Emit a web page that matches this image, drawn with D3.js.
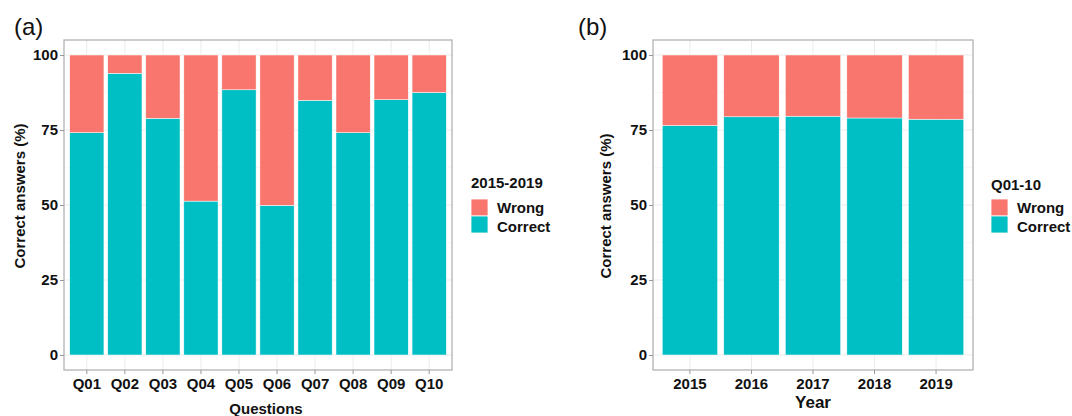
<!DOCTYPE html>
<html>
<head>
<meta charset="utf-8">
<script src="https://cdn.jsdelivr.net/npm/d3@7"></script>
<style>
  body { margin: 0; background: #fff; }
  svg text { font-family: "Liberation Sans", Arial, sans-serif; }
</style>
</head>
<body>
<div id="chart"></div>
<script>
// Data (percent of answers)
var questions = ["Q01", "Q02", "Q03", "Q04", "Q05", "Q06", "Q07", "Q08", "Q09", "Q10"];
var correctByQuestion = [74.1, 93.9, 78.9, 51.3, 88.4, 49.9, 84.9, 74.1, 85.1, 87.5];
var wrongByQuestion = [25.9, 6.1, 21.1, 48.7, 11.6, 50.1, 15.1, 25.9, 14.9, 12.5];

var years = ["2015", "2016", "2017", "2018", "2019"];
var correctByYear = [76.5, 79.4, 79.6, 79.0, 78.6];
var wrongByYear = [23.5, 20.6, 20.4, 21.0, 21.4];

var yTicks = [0, 25, 50, 75, 100];
var yMinor = [12.5, 37.5, 62.5, 87.5];

var colorWrong = "#F8766D";
var colorCorrect = "#00BFC4";

var svgWidth = 1072;
var svgHeight = 416;

var svg = d3.select("#chart")
    .append("svg")
    .attr("width", svgWidth)
    .attr("height", svgHeight);

// draws one ggplot-like stacked bar panel
function drawPanel(opts) {
    var left = opts.left, right = opts.right, top = 40, bottom = 370;

    var xBand = d3.scaleBand()
        .domain(opts.categories)
        .range([left, right])
        .paddingInner(0.1)
        .paddingOuter(0.15);

    var yLinear = d3.scaleLinear()
        .domain([-5, 105])
        .range([bottom, top]);

    var g = svg.append("g");

    // panel background
    g.append("rect")
        .attr("x", left).attr("y", top)
        .attr("width", right - left).attr("height", bottom - top)
        .attr("fill", "#fff");

    // minor grid
    g.selectAll(".minor")
        .data(yMinor)
        .enter().append("line")
        .attr("x1", left).attr("x2", right)
        .attr("y1", d => yLinear(d)).attr("y2", d => yLinear(d))
        .attr("stroke", "#f3f3f3").attr("stroke-width", 0.6);

    // major grid
    g.selectAll(".hmajor")
        .data(yTicks)
        .enter().append("line")
        .attr("x1", left).attr("x2", right)
        .attr("y1", d => yLinear(d)).attr("y2", d => yLinear(d))
        .attr("stroke", "#ebebeb").attr("stroke-width", 1);

    g.selectAll(".vmajor")
        .data(opts.categories)
        .enter().append("line")
        .attr("y1", top).attr("y2", bottom)
        .attr("x1", d => xBand(d) + xBand.bandwidth() / 2)
        .attr("x2", d => xBand(d) + xBand.bandwidth() / 2)
        .attr("stroke", "#ebebeb").attr("stroke-width", 1);

    // correct segment (bottom)
    g.selectAll(".correct")
        .data(opts.categories)
        .enter().append("rect")
        .attr("x", d => xBand(d))
        .attr("width", xBand.bandwidth())
        .attr("y", (d, i) => yLinear(opts.correct[i]))
        .attr("height", (d, i) => yLinear(0) - yLinear(opts.correct[i]))
        .attr("fill", colorCorrect)
        .attr("stroke", "#fff").attr("stroke-width", 0.5);

    // wrong segment (top)
    g.selectAll(".wrong")
        .data(opts.categories)
        .enter().append("rect")
        .attr("x", d => xBand(d))
        .attr("width", xBand.bandwidth())
        .attr("y", (d, i) => yLinear(opts.correct[i] + opts.wrong[i]))
        .attr("height", (d, i) => yLinear(opts.correct[i]) - yLinear(opts.correct[i] + opts.wrong[i]))
        .attr("fill", colorWrong)
        .attr("stroke", "#fff").attr("stroke-width", 0.5);

    // panel border
    g.append("rect")
        .attr("x", left).attr("y", top)
        .attr("width", right - left).attr("height", bottom - top)
        .attr("fill", "none")
        .attr("stroke", "#b3b3b3").attr("stroke-width", 1.3);

    // axes
    var leftAxis = d3.axisLeft(yLinear).tickValues(yTicks).tickSize(4).tickPadding(2);
    var bottomAxis = d3.axisBottom(xBand).tickSize(4).tickPadding(4);

    var yAxis = g.append("g")
        .attr("transform", `translate(${left}, 0)`)
        .call(leftAxis);
    var xAxis = g.append("g")
        .attr("transform", `translate(0, ${bottom})`)
        .call(bottomAxis);

    [xAxis, yAxis].forEach(function(ax) {
        ax.select(".domain").remove();
        ax.selectAll(".tick line").attr("stroke", "#999").attr("stroke-width", 1);
        ax.selectAll(".tick text")
            .attr("fill", "#111")
            .style("font-size", "15px")
            .style("font-weight", "bold");
    });

    // panel tag
    svg.append("text")
        .attr("x", opts.tagX).attr("y", 35)
        .style("font-size", "24px")
        .attr("fill", "#111")
        .text(opts.tag);

    // axis titles
    svg.append("text")
        .attr("transform", `translate(${opts.yTitleX}, ${opts.yTitleY}) rotate(-90)`)
        .attr("text-anchor", "middle")
        .style("font-size", "15px").style("font-weight", "bold")
        .attr("fill", "#111")
        .text("Correct answers (%)");

    svg.append("text")
        .attr("x", opts.xTitleX).attr("y", opts.xTitleY)
        .attr("text-anchor", "middle")
        .style("font-size", opts.xTitleSize).style("font-weight", "bold")
        .attr("fill", "#111")
        .text(opts.xTitle);

    // legend
    var legend = svg.append("g")
        .attr("transform", `translate(${opts.legendX}, 0)`);
    legend.append("text")
        .attr("x", 0).attr("y", opts.legendTitleY)
        .style("font-size", "15px").style("font-weight", "bold")
        .attr("fill", "#111")
        .text(opts.legendTitle);

    var keys = [{label: "Wrong", color: colorWrong}, {label: "Correct", color: colorCorrect}];
    keys.forEach(function(k, i) {
        legend.append("rect")
            .attr("x", 0).attr("y", 199 + i * 17)
            .attr("width", 17).attr("height", 17)
            .attr("fill", k.color)
            .attr("stroke", "#fff").attr("stroke-width", 0.8);
        legend.append("text")
            .attr("x", 26).attr("y", 213 + i * 18.5)
            .style("font-size", "15px").style("font-weight", "bold")
            .attr("fill", "#111")
            .text(k.label);
    });
}

drawPanel({
    categories: questions,
    correct: correctByQuestion,
    wrong: wrongByQuestion,
    left: 64, right: 452,
    tag: "(a)", tagX: 14,
    yTitleX: 25, yTitleY: 196,
    xTitle: "Questions", xTitleX: 266, xTitleY: 414, xTitleSize: "15px",
    legendX: 471, legendTitleY: 188, legendTitle: "2015-2019"
});

drawPanel({
    categories: years,
    correct: correctByYear,
    wrong: wrongByYear,
    left: 653, right: 973,
    tag: "(b)", tagX: 578,
    yTitleX: 611, yTitleY: 206,
    xTitle: "Year", xTitleX: 813, xTitleY: 408, xTitleSize: "17px",
    legendX: 991, legendTitleY: 190, legendTitle: "Q01-10"
});
</script>
</body>
</html>
